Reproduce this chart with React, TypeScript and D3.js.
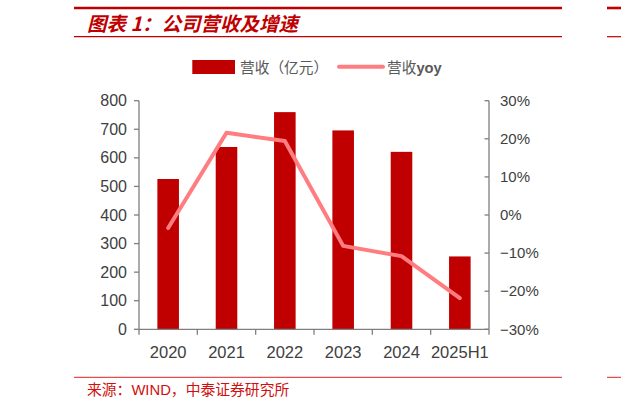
import React from "react";
import * as d3 from "d3";

const categories = ["2020", "2021", "2022", "2023", "2024", "2025H1"];
const revenue = [526, 638, 760, 696, 621, 255];
const yoy = [-3.4, 21.6, 19.4, -8.1, -10.8, -21.8];
const leftTicks = [0, 100, 200, 300, 400, 500, 600, 700, 800];
const rightTicks = [-30, -20, -10, 0, 10, 20, 30];

const W = 621;
const H = 409;
const plotLeft = 139;
const plotRight = 489;
const plotTop = 100.7;
const plotBottom = 329.3;

const BAR = "#c00000";
const LINE = "#ff7c80";
const AXIS = "#7f7f7f";
const TEXT = "#404040";
const LABEL_FONT = "'Liberation Sans', Arial, sans-serif";
const CJK = "'Noto Sans CJK SC', 'Noto Sans', sans-serif";

export default function App() {
  const x = d3
    .scaleBand<string>()
    .domain(categories)
    .range([plotLeft, plotRight])
    .paddingInner(0.63)
    .paddingOuter(0.315);
  const step = x.step();
  const yL = d3.scaleLinear().domain([0, 800]).range([plotBottom, plotTop]);
  const yR = d3.scaleLinear().domain([-30, 30]).range([plotBottom, plotTop]);
  const cx = (c: string) => (x(c) ?? 0) + x.bandwidth() / 2;

  const line = d3
    .line<number>()
    .x((_, i) => cx(categories[i]))
    .y((d) => yR(d));

  const fmtR = (d: number) => (d < 0 ? "\u2212" + Math.abs(d) : String(d)) + "%";

  const xTickPos = d3.range(categories.length + 1).map((i) => plotLeft + i * step);

  return (
    <div style={{ position: "absolute", left: 0, top: 0 }}>
      <svg width={W} height={H} style={{ display: "block", background: "#fff" }}>
        {/* header lines */}
        <line x1={74} x2={562} y1={8} y2={8} stroke={BAR} strokeWidth={2.6} />
        <line x1={607} x2={621} y1={8} y2={8} stroke={BAR} strokeWidth={2.6} />
        <line x1={74} x2={562} y1={36.7} y2={36.7} stroke={BAR} strokeWidth={1.2} />
        <line x1={607} x2={621} y1={36.7} y2={36.7} stroke={BAR} strokeWidth={1.2} />
        <text
          x={87}
          y={30.5}
          fill={BAR}
          fontFamily={CJK}
          fontSize={19.5}
          fontWeight="bold"
          fontStyle="italic"
        >
          图表 1：公司营收及增速
        </text>

        {/* legend */}
        <rect x={192.3} y={60} width={42.7} height={14} fill={BAR} />
        <text x={240} y={72.5} fill="#595959" fontFamily={CJK} fontSize={14.7}>
          营收（亿元）
        </text>
        <line x1={339} x2={383} y1={66.8} y2={66.8} stroke={LINE} strokeWidth={4} strokeLinecap="round" />
        <text x={387} y={72.5} fill="#595959" fontFamily={CJK} fontSize={14.7}>
          营收
          <tspan fontFamily={LABEL_FONT} fontWeight="bold">yoy</tspan>
        </text>

        {/* bars */}
        {categories.map((c, i) => (
          <rect
            key={c}
            x={x(c)}
            y={yL(revenue[i])}
            width={x.bandwidth()}
            height={plotBottom - yL(revenue[i])}
            fill={BAR}
          />
        ))}

        {/* line */}
        <path
          d={line(yoy) ?? ""}
          fill="none"
          stroke={LINE}
          strokeWidth={4}
          strokeLinejoin="round"
          strokeLinecap="round"
        />

        {/* left axis */}
        <line x1={plotLeft} x2={plotLeft} y1={plotTop} y2={plotBottom} stroke={AXIS} strokeWidth={1.3} />
        {leftTicks.map((t) => (
          <g key={"l" + t}>
            <line x1={plotLeft - 5} x2={plotLeft} y1={yL(t)} y2={yL(t)} stroke={AXIS} strokeWidth={1.3} />
            <text
              x={127}
              y={yL(t)}
              dy="0.35em"
              textAnchor="end"
              fill={TEXT}
              fontFamily={LABEL_FONT}
              fontSize={16}
            >
              {t}
            </text>
          </g>
        ))}

        {/* right axis */}
        <line x1={plotRight} x2={plotRight} y1={plotTop} y2={plotBottom} stroke={AXIS} strokeWidth={1.3} />
        {rightTicks.map((t) => (
          <g key={"r" + t}>
            <line x1={plotRight - 4.5} x2={plotRight} y1={yR(t)} y2={yR(t)} stroke={AXIS} strokeWidth={1.3} />
            <text
              x={500}
              y={yR(t)}
              dy="0.35em"
              textAnchor="start"
              fill={TEXT}
              fontFamily={LABEL_FONT}
              fontSize={15}
            >
              {fmtR(t)}
            </text>
          </g>
        ))}

        {/* bottom axis */}
        <line x1={plotLeft} x2={plotRight} y1={plotBottom} y2={plotBottom} stroke={AXIS} strokeWidth={1.3} />
        {xTickPos.map((p, i) => (
          <line key={"xt" + i} x1={p} x2={p} y1={plotBottom} y2={plotBottom + 5.5} stroke={AXIS} strokeWidth={1.3} />
        ))}
        {categories.map((c) => (
          <text
            key={"xl" + c}
            x={cx(c)}
            y={357.5}
            textAnchor="middle"
            fill={TEXT}
            fontFamily={LABEL_FONT}
            fontSize={16.5}
          >
            {c}
          </text>
        ))}

        {/* source */}
        <line x1={74} x2={562} y1={377.3} y2={377.3} stroke="#e0202a" strokeWidth={1} />
        <line x1={607} x2={621} y1={377.3} y2={377.3} stroke="#e0202a" strokeWidth={1} />
        <text x={87} y={395} fill="#d01010" fontFamily={CJK} fontSize={14.8}>
          来源：
          <tspan fontFamily={LABEL_FONT}>WIND</tspan>
          ，中泰证券研究所
        </text>
      </svg>
    </div>
  );
}
